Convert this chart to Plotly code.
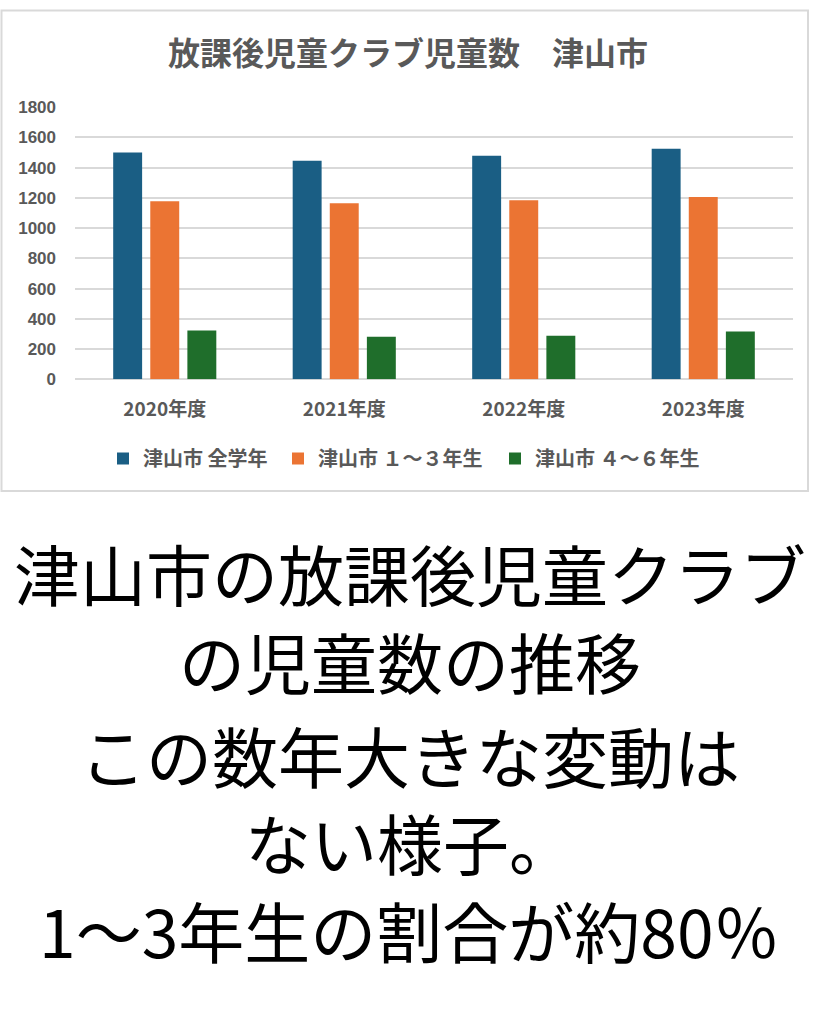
import plotly.graph_objects as go

years = ["2020年度", "2021年度", "2022年度", "2023年度"]
series_names = ["津山市 全学年", "津山市 １～３年生", "津山市 ４～６年生"]
all_grades = [1500, 1445, 1478, 1524]
grades_1_3 = [1178, 1165, 1184, 1206]
grades_4_6 = [322, 282, 288, 316]
colors = ["#1a5e84", "#eb7433", "#1f6e2b"]
y_ticks = [0, 200, 400, 600, 800, 1000, 1200, 1400, 1600, 1800]

title_text = "放課後児童クラブ児童数　津山市"
caption_lines = [
    "津山市の放課後児童クラブ",
    "の児童数の推移",
    "この数年大きな変動は",
    "ない様子。",
    "1～3年生の割合が約80％",
]

W, H = 819, 1024
font_cjk = "Noto Sans CJK JP"
grey = "#595959"


def py(p):  # reference pixel from top -> paper y
    return 1 - p / H


def px(p):
    return p / W


fig = go.Figure()
legend_ids = ["legend", "legend2", "legend3"]
for name, vals, col, lg in zip(series_names, [all_grades, grades_1_3, grades_4_6], colors, legend_ids):
    fig.add_trace(go.Bar(x=years, y=vals, name=name, legend=lg,
                         marker=dict(color=col, line=dict(width=0))))

legend_font = dict(size=20, color=grey, family=font_cjk, weight="bold")
legend_x = [103, 278, 495]
legend_common = dict(orientation="h", y=py(458), yanchor="middle", xanchor="left",
                     font=legend_font, itemwidth=30, bgcolor="rgba(0,0,0,0)")

fig.update_layout(
    width=W, height=H,
    margin=dict(l=0, r=0, t=0, b=0),
    paper_bgcolor="white", plot_bgcolor="white",
    barmode="group", bargap=0.38, bargroupgap=0.22,
    font=dict(family=font_cjk, color=grey),
    showlegend=True,
    legend=dict(x=px(legend_x[0]), **legend_common),
    legend2=dict(x=px(legend_x[1]), **legend_common),
    legend3=dict(x=px(legend_x[2]), **legend_common),
    xaxis=dict(domain=[px(75), px(793)], showgrid=False, showline=False, ticks="",
               tickfont=dict(size=19, color=grey, family=font_cjk, weight="bold"),
               ticklabelstandoff=17, anchor="y"),
    yaxis=dict(domain=[py(377.3), py(100)], range=[0, 1800], tickvals=y_ticks,
               showgrid=True, gridcolor="#d9d9d9", gridwidth=1.5,
               zeroline=True, zerolinecolor="#d9d9d9", zerolinewidth=1.5,
               showline=False, ticks="",
               tickfont=dict(size=17, color=grey, family="Liberation Sans", weight="bold"),
               ticklabelstandoff=18, anchor="x"),
)

# chart frame
fig.add_shape(type="rect", xref="paper", yref="paper",
              x0=px(1.5), x1=px(808), y0=py(491), y1=py(1.5),
              line=dict(color="#d9d9d9", width=2), fillcolor="rgba(0,0,0,0)", layer="below")

fig.add_annotation(text=title_text, xref="paper", yref="paper", x=px(408), y=py(43),
                   xanchor="center", yanchor="middle", showarrow=False,
                   font=dict(size=32, color=grey, family=font_cjk, weight="bold"))

centers = [574, 663, 759, 848, 937]
sizes = [66, 66, 66, 66, 66]
for line, cy, fs in zip(caption_lines, centers, sizes):
    fig.add_annotation(text=line, xref="paper", yref="paper", x=0.5, y=py(cy),
                       xanchor="center", yanchor="middle", showarrow=False,
                       font=dict(size=fs, color="black", family=font_cjk))

fig.write_html("out.html", post_script="document.body.style.margin='0px';",
               config={"displayModeBar": False})
